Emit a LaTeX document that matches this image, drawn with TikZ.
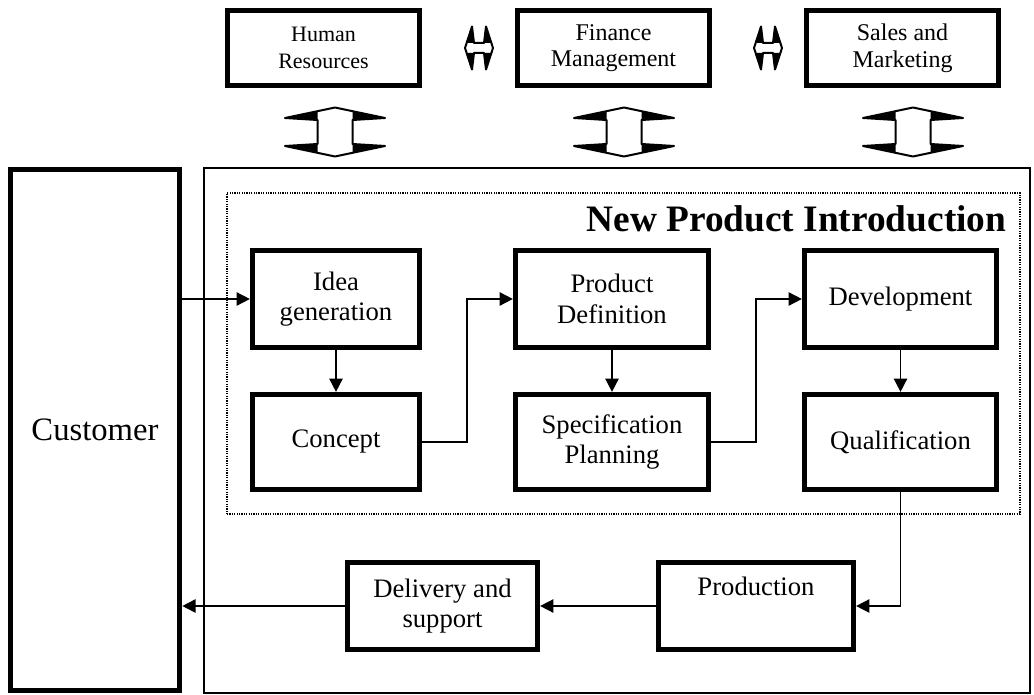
\documentclass[tikz,border=0pt]{standalone}
\usepackage{fontspec}
\setmainfont{Liberation Serif}
\usetikzlibrary{arrows.meta}
\tikzset{
  % vertical two-way block arrow between a department and the NPI area
  pics/vlink/.style={code={
    \fill (17.5,-20.3) -- (50,-14) -- (17.5,-12) -- cycle;
    \fill (-17.5,-20.3) -- (-50,-14) -- (-17.5,-12) -- cycle;
    \fill (17.5,20.3) -- (50,14) -- (17.5,12) -- cycle;
    \fill (-17.5,20.3) -- (-50,14) -- (-17.5,12) -- cycle;
    \draw[line width=1.5pt, line join=round]
      (0,-24.5) -- (50,-14) -- (17.5,-12) -- (17.5,12) -- (50,14) -- (0,24.5)
      -- (-50,14) -- (-17.5,12) -- (-17.5,-12) -- (-50,-14) -- cycle;
  }},
  % small horizontal two-way block arrow between departments
  pics/hlink/.style={code={
    \fill (-12.3,-5) -- (-7,-21.5) -- (-5,-5) -- cycle;
    \fill (12.3,-5) -- (7,-21.5) -- (5,-5) -- cycle;
    \fill (-12.3,5) -- (-7,21.5) -- (-5,5) -- cycle;
    \fill (12.3,5) -- (7,21.5) -- (5,5) -- cycle;
    \draw[line width=1.5pt, line join=round]
      (-14,0) -- (-7,-21.5) -- (-5,-5) -- (5,-5) -- (7,-21.5) -- (14,0)
      -- (7,21.5) -- (5,5) -- (-5,5) -- (-7,21.5) -- cycle;
  }}
}
\begin{document}
\begin{tikzpicture}[x=0.75pt,y=-0.75pt,
  stepbox/.style={draw, line width=3.9pt, inner sep=0pt, align=center,
    font=\fontsize{20}{23}\selectfont, minimum height=72.5pt},
  deptbox/.style={draw, line width=3.9pt, inner sep=0pt, align=center,
    minimum width=144pt, minimum height=56.25pt},
  flow/.style={line width=1.25pt, -{Triangle[length=10pt,width=10pt]}},
  area/.style={draw, line width=1.1pt, inner sep=0pt},
  npiarea/.style={draw, line width=1.1pt, dash pattern=on 0.9pt off 0.9pt, inner sep=0pt}
]
\useasboundingbox (0,0) rectangle (1034,695);

% departments
\node[deptbox, font=\fontsize{16.5}{20}\selectfont] (hr) at (323.5,48) {Human\\Resources};
\node[deptbox, font=\fontsize{18}{20}\selectfont] (fm) at (613.5,48) {Finance\\Management};
\node[deptbox, font=\fontsize{18}{20}\selectfont] (sm) at (902.5,48) {Sales and\\Marketing};
\pic at (479,48) {hlink};
\pic at (768,48) {hlink};
\pic at (335,132) {vlink};
\pic at (624,132) {vlink};
\pic at (913,132) {vlink};

% enterprise area and NPI area
\node[area, minimum width=619.5pt, minimum height=393.75pt] (ent) at (617,430.5) {};
\node[npiarea, minimum width=594.75pt, minimum height=240.75pt] (npi) at (623.5,353.5) {};
\node[anchor=base east, font=\fontsize{28}{32}\selectfont\bfseries] (npititle) at (1011,232) {New Product Introduction};

% customer
\node[draw, line width=4.2pt, inner sep=0pt, minimum width=126.75pt, minimum height=390.75pt,
  font=\fontsize{24.5}{28}\selectfont] (cust) at (95,430) {Customer};

% NPI stages
\node[stepbox, minimum width=125.25pt] (idea) at (336,299) {Idea\\generation};
\node[stepbox, minimum width=125.25pt, minimum height=71.25pt] (concept) at (336,442) {Concept};
\node[stepbox, minimum width=144.75pt] (pdef) at (612,299) {Product\\Definition};
\node[stepbox, minimum width=144.75pt, minimum height=71.25pt] (spec) at (612,442) {Specification\\Planning};
\node[stepbox, minimum width=144pt] (dev) at (900.5,299) {Development};
\node[stepbox, minimum width=144pt, minimum height=71.25pt] (qual) at (900.5,442) {Qualification};

% downstream
\node[stepbox, minimum width=146.25pt, minimum height=65.25pt] (prod) at (756,606) {Production\\\strut};
\node[stepbox, minimum width=142.5pt, minimum height=65.25pt] (deliv) at (442.5,606) {Delivery and\\support};

% flow
\draw[flow] (idea.west -| cust.east) -- (idea.west);
\draw[flow] (idea) -- (concept);
\draw[flow] (concept.east) -- ++(45,0) |- (pdef.west);
\draw[flow] (pdef) -- (spec);
\draw[flow] (spec.east) -- ++(45,0) |- (dev.west);
\draw[flow] (dev) -- (qual);
\draw[flow] (qual.south) |- (prod.east);
\draw[flow] (prod.west) -- (deliv.east);
\draw[flow] (deliv.west) -- (deliv.west -| cust.east);
\end{tikzpicture}
\end{document}
